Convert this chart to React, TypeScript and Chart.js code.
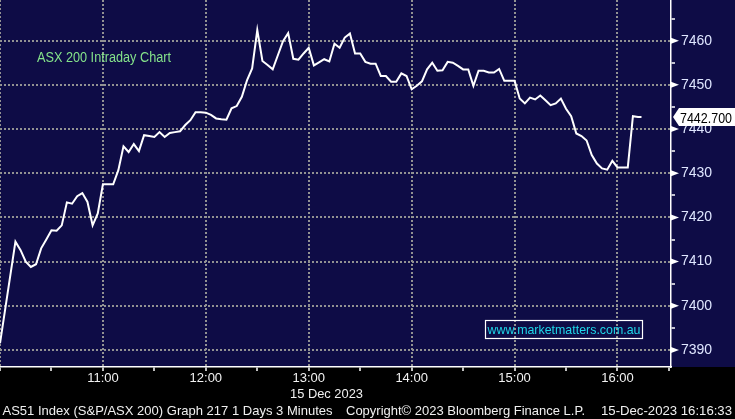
import React, { useEffect, useRef } from "react";
import { Chart, registerables } from "chart.js";

Chart.register(...registerables);

// ---- data ----
const times = [
  "10:00", "10:09", "10:12", "10:15", "10:18", "10:21", "10:24", "10:27", "10:30", "10:33",
  "10:36", "10:39", "10:42", "10:45", "10:48", "10:51", "10:54", "10:57", "11:00", "11:06",
  "11:09", "11:12", "11:15", "11:18", "11:21", "11:24", "11:27", "11:30", "11:33", "11:36",
  "11:39", "11:42", "11:45", "11:48", "11:51", "11:54", "11:57", "12:00", "12:03", "12:06",
  "12:09", "12:12", "12:15", "12:18", "12:21", "12:24", "12:27", "12:30", "12:33", "12:36",
  "12:39", "12:42", "12:45", "12:48", "12:51", "12:54", "12:57", "13:00", "13:03", "13:06",
  "13:09", "13:12", "13:15", "13:18", "13:21", "13:24", "13:27", "13:30", "13:33", "13:36",
  "13:39", "13:42", "13:45", "13:48", "13:51", "13:54", "13:57", "14:00", "14:03", "14:06",
  "14:09", "14:12", "14:15", "14:18", "14:21", "14:24", "14:27", "14:30", "14:33", "14:36",
  "14:39", "14:42", "14:45", "14:48", "14:51", "14:54", "14:57", "15:00", "15:03", "15:06",
  "15:09", "15:12", "15:15", "15:18", "15:21", "15:24", "15:27", "15:30", "15:33", "15:36",
  "15:39", "15:42", "15:45", "15:48", "15:51", "15:54", "15:57", "16:00", "16:03", "16:06",
  "16:09", "16:12", "16:14",
];
const values = [
  7391.5, 7414.5, 7412.6, 7410.0, 7408.8, 7409.4, 7413.0, 7415.0, 7417.1, 7417.0,
  7418.2, 7423.4, 7423.1, 7424.8, 7425.5, 7423.5, 7418.2, 7420.9, 7427.5, 7427.5,
  7430.7, 7436.1, 7434.8, 7436.6, 7435.0, 7438.6, 7438.4, 7438.2, 7439.3, 7438.2,
  7439.1, 7439.3, 7439.5, 7440.9, 7442.0, 7443.8, 7443.8, 7443.7, 7443.2, 7442.4,
  7442.2, 7442.1, 7444.7, 7445.2, 7447.3, 7451.0, 7453.7, 7462.4, 7455.4, 7454.5,
  7453.5, 7456.7, 7459.9, 7461.7, 7455.9, 7455.7, 7457.1, 7458.4, 7454.4, 7455.1,
  7455.8, 7455.3, 7459.3, 7458.4, 7460.7, 7461.6, 7457.1, 7457.1, 7455.2, 7454.8,
  7454.8, 7452.0, 7452.0, 7450.7, 7450.7, 7452.6, 7452.0, 7449.0, 7449.8, 7450.8,
  7453.5, 7455.0, 7453.2, 7453.3, 7455.2, 7455.0, 7454.3, 7453.5, 7453.5, 7449.8,
  7453.2, 7453.2, 7452.8, 7452.8, 7453.6, 7450.9, 7450.9, 7450.9, 7446.9, 7445.8,
  7447.1, 7446.7, 7447.6, 7446.5, 7445.4, 7445.8, 7446.9, 7444.6, 7442.9, 7439.0,
  7438.4, 7437.4, 7434.1, 7432.2, 7431.1, 7430.8, 7432.8, 7431.3, 7431.3, 7431.3,
  7442.9, 7442.7, 7442.7,
];
const sessionStart = "10:00";
const xMaxMinutes = 391.2; // right edge of plot, minutes after session start
const yMin = 7386.15;
const yMax = 7469.2;
const titleText = "ASX 200 Intraday Chart";
const dateText = "15 Dec 2023";
const siteText = "www.marketmatters.com.au";
const footerTexts = [
  "AS51 Index (S&P/ASX 200) Graph 217 1 Days 3 Minutes",
  "Copyright\u00A9 2023 Bloomberg Finance L.P.",
  "15-Dec-2023 16:16:33",
];

const toMin = (t: string) => {
  const [h, m] = t.split(":").map(Number);
  return h * 60 + m;
};
const base = toMin(sessionStart);
const fmtTime = (v: number) => {
  const t = base + Math.round(v);
  const h = Math.floor(t / 60);
  const m = t % 60;
  return `${h}:${m.toString().padStart(2, "0")}`;
};

const FONT = "'Liberation Sans', Arial, sans-serif";
const NAVY = "#0e0c46";
const GRID = "#929292";

function fillScaledText(ctx: CanvasRenderingContext2D, text: string, x: number, y: number, w: number) {
  const m = ctx.measureText(text).width;
  ctx.save();
  ctx.translate(x, y);
  ctx.scale(w / m, 1);
  ctx.fillText(text, 0, 0);
  ctx.restore();
}

const decor = {
  id: "decor",
  beforeDraw(chart: any) {
    const { ctx, chartArea, width, height } = chart;
    ctx.save();
    ctx.fillStyle = "#000";
    ctx.fillRect(0, 0, width, height);
    ctx.fillStyle = NAVY;
    ctx.fillRect(0, 0, width, chartArea.bottom);
    ctx.restore();
  },
  afterDraw(chart: any) {
    const { ctx, chartArea, scales } = chart;
    const ys = scales.y;
    ctx.save();
    // axis triangles on major y ticks
    ctx.fillStyle = "#ffffff";
    ys.ticks.forEach((t: any) => {
      if (Math.round(t.value) % 10 === 0) {
        const y = ys.getPixelForValue(t.value);
        ctx.beginPath();
        ctx.moveTo(chartArea.right, y - 3);
        ctx.lineTo(chartArea.right + 8, y);
        ctx.lineTo(chartArea.right, y + 3);
        ctx.closePath();
        ctx.fill();
      }
    });
    // title
    ctx.font = `14px ${FONT}`;
    ctx.fillStyle = "#84e28a";
    ctx.textBaseline = "alphabetic";
    fillScaledText(ctx, titleText, 37, 62, 134);
    // website box
    ctx.strokeStyle = "#ffffff";
    ctx.lineWidth = 1.2;
    ctx.strokeRect(485.5, 320.5, 157, 18);
    ctx.font = `13px ${FONT}`;
    ctx.fillStyle = "#1fd6e8";
    fillScaledText(ctx, siteText, 487.5, 334, 153);
    // last value label
    const lastV = values[values.length - 1];
    const ly = ys.getPixelForValue(lastV);
    const lx = chartArea.right + 2;
    ctx.fillStyle = "#ffffff";
    ctx.beginPath();
    ctx.moveTo(lx, ly);
    ctx.lineTo(lx + 6, ly - 9);
    ctx.lineTo(chart.width + 2, ly - 9);
    ctx.lineTo(chart.width + 2, ly + 9);
    ctx.lineTo(lx + 6, ly + 9);
    ctx.closePath();
    ctx.fill();
    ctx.fillStyle = "#000";
    ctx.font = `14px ${FONT}`;
    fillScaledText(ctx, lastV.toFixed(3), lx + 7, ly + 5.5, 52);
    // date under 13:00
    ctx.fillStyle = "#f0f0f0";
    ctx.font = `13px ${FONT}`;
    fillScaledText(ctx, dateText, 290, 397.5, 73);
    // footer
    fillScaledText(ctx, footerTexts[0], 2.5, 415, 330);
    fillScaledText(ctx, footerTexts[1], 346, 415, 239);
    fillScaledText(ctx, footerTexts[2], 601, 415, 131);
    ctx.restore();
  },
};

export default function App() {
  const ref = useRef<HTMLCanvasElement | null>(null);
  useEffect(() => {
    if (!ref.current) return;
    const data = times.map((t, i) => ({ x: toMin(t) - base, y: values[i] }));
    const chart = new Chart(ref.current, {
      type: "line",
      data: {
        datasets: [
          {
            data,
            borderColor: "#ffffff",
            borderWidth: 2,
            pointRadius: 0,
            tension: 0,
            fill: false,
          },
        ],
      },
      options: {
        animation: false,
        responsive: false,
        devicePixelRatio: 1,
        layout: { padding: 0 },
        plugins: { legend: { display: false }, tooltip: { enabled: false }, title: { display: false } },
        scales: {
          x: {
            type: "linear",
            position: "bottom",
            min: 0,
            max: xMaxMinutes,
            afterFit: (s: any) => {
              s.height = 52;
              s.paddingLeft = 0;
              s.paddingRight = 0;
            },
            ticks: {
              stepSize: 30,
              includeBounds: false,
              autoSkip: false,
              maxRotation: 0,
              padding: 0,
              color: "#f2f2f2",
              font: { family: FONT, size: 13 },
              callback: (v: any) => {
                const n = Math.round(Number(v));
                return n % 60 === 0 && n > 0 ? fmtTime(n) : "";
              },
            },
            grid: {
              color: (c: any) => (c.tick && Math.round(c.tick.value) % 60 === 0 ? GRID : "rgba(0,0,0,0)"),
              lineWidth: 2,
              drawTicks: true,
              tickLength: 4,
              tickWidth: 1.5,
              tickColor: "#ffffff",
            },
            border: { display: true, color: "#ffffff", width: 1.5, dash: [2, 2] },
          },
          y: {
            type: "linear",
            position: "right",
            min: yMin,
            max: yMax,
            afterFit: (s: any) => {
              s.width = 64;
              s.paddingTop = 0;
              s.paddingBottom = 0;
            },
            ticks: {
              stepSize: 5,
              includeBounds: false,
              autoSkip: false,
              padding: 6,
              color: "#dfe6ff",
              font: { family: FONT, size: 14 },
              callback: (v: any) => (Math.round(Number(v)) % 10 === 0 ? String(Math.round(Number(v))) : ""),
            },
            grid: {
              color: (c: any) => (c.tick && Math.round(c.tick.value) % 10 === 0 ? GRID : "rgba(0,0,0,0)"),
              lineWidth: 2,
              drawTicks: true,
              tickLength: 4,
              tickWidth: 1.5,
              tickColor: "#ffffff",
            },
            border: { display: true, color: "#ffffff", width: 1.5, dash: [2, 2] },
          },
        },
      },
      plugins: [decor],
    });
    return () => chart.destroy();
  }, []);
  return (
    <div style={{ position: "absolute", left: 0, top: 0, width: 735, height: 419 }}>
      <canvas ref={ref} width={735} height={419} style={{ width: 735, height: 419, display: "block" }} />
    </div>
  );
}
